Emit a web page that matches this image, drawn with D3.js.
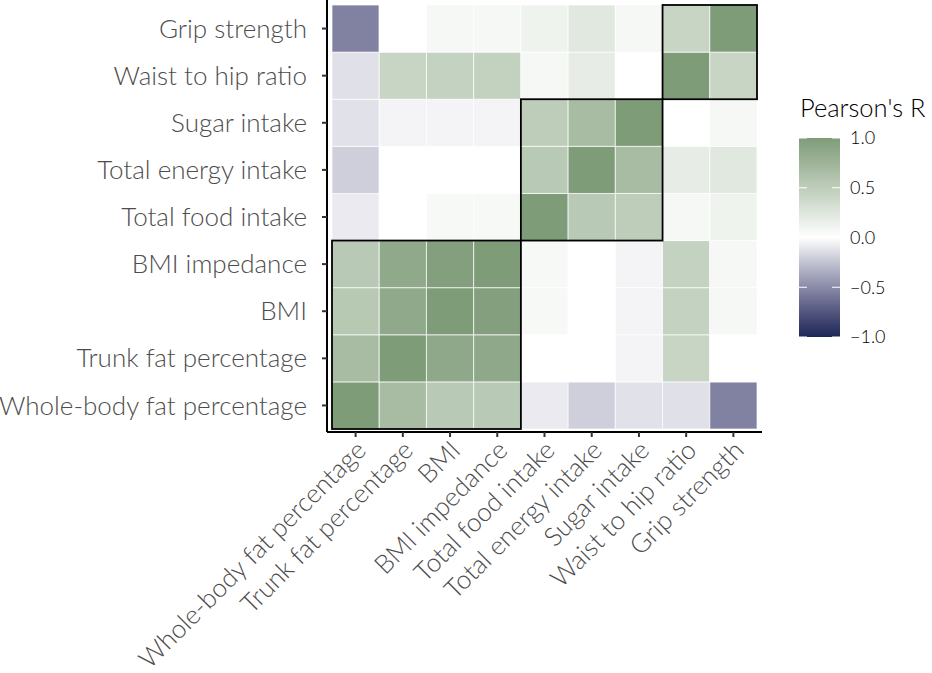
<!DOCTYPE html>
<html>
<head>
<meta charset="utf-8">
<script src="https://cdn.jsdelivr.net/npm/d3@7"></script>
<style>
  body { margin: 0; background: #fff; }
  text { font-family: Lato, "Open Sans", sans-serif; font-weight: 300; }
</style>
</head>
<body>
<div id="chart"></div>
<script>
// variables, left to right on x and bottom to top on y
var vars = ["Whole-body fat percentage", "Trunk fat percentage", "BMI", "BMI impedance",
            "Total food intake", "Total energy intake", "Sugar intake", "Waist to hip ratio", "Grip strength"];

// correlation rows, listed top to bottom as in the picture (columns follow vars)
var rowGrip   = [-0.54, 0.00, 0.07, 0.07, 0.12, 0.23, 0.07, 0.42, 1.00];
var rowWaist  = [-0.13, 0.42, 0.45, 0.46, 0.07, 0.18, 0.00, 1.00, 0.42];
var rowSugar  = [-0.125, -0.045, -0.045, -0.045, 0.50, 0.67, 1.00, 0.00, 0.07];
var rowEnergy = [-0.20, 0.00, 0.00, 0.00, 0.54, 1.00, 0.67, 0.18, 0.23];
var rowFood   = [-0.085, 0.00, 0.06, 0.06, 1.00, 0.54, 0.50, 0.07, 0.12];
var rowBmiImp = [0.54, 0.86, 0.97, 1.00, 0.06, 0.00, -0.045, 0.45, 0.07];
var rowBmi    = [0.55, 0.86, 1.00, 0.97, 0.06, 0.00, -0.045, 0.45, 0.07];
var rowTrunk  = [0.67, 1.00, 0.87, 0.87, 0.00, 0.00, -0.045, 0.42, 0.00];
var rowWhole  = [1.00, 0.67, 0.54, 0.54, -0.085, -0.20, -0.125, -0.13, -0.54];

// clusters outlined with black boxes: [first var, last var]
var clusters = [["Whole-body fat percentage", "BMI impedance"],
                ["Total food intake", "Sugar intake"],
                ["Waist to hip ratio", "Grip strength"]];

var legendTicks = [1.0, 0.5, 0.0, -0.5, -1.0];

var width = 932, height = 673;
var rows = [rowWhole, rowTrunk, rowBmi, rowBmiImp, rowFood, rowEnergy, rowSugar, rowWaist, rowGrip];

var cells = [];
rows.forEach(function(r, i) {
  r.forEach(function(v, j) {
    cells.push({ row: vars[i], col: vars[j], value: v });
  });
});

var svg = d3.select("#chart").append("svg")
  .attr("width", width)
  .attr("height", height);

var panel = { left: 327, right: 762, top: 0, bottom: 432 };

var x = d3.scaleBand().domain(vars).range([332, 757]);
var y = d3.scaleBand().domain(vars).range([429, 5]);

var color = d3.scaleLinear()
  .domain([-1, 0, 1])
  .range(["#1c2756", "#ffffff", "#7f9c79"])
  .interpolate(d3.interpolateLab);

svg.append("g").selectAll("rect")
  .data(cells)
  .join("rect")
    .attr("x", function(d) { return x(d.col); })
    .attr("y", function(d) { return y(d.row); })
    .attr("width", x.bandwidth())
    .attr("height", y.bandwidth())
    .attr("fill", function(d) { return color(d.value); })
    .attr("stroke", "rgba(255,255,255,0.7)")
    .attr("stroke-width", 1);

svg.append("g").selectAll("rect")
  .data(clusters)
  .join("rect")
    .attr("x", function(d) { return x(d[0]); })
    .attr("y", function(d) { return y(d[1]); })
    .attr("width", function(d) { return x(d[1]) + x.bandwidth() - x(d[0]); })
    .attr("height", function(d) { return y(d[0]) + y.bandwidth() - y(d[1]); })
    .attr("fill", "none")
    .attr("stroke", "#000")
    .attr("stroke-width", 1.8);

// axes
var xAxis = svg.append("g")
  .attr("transform", "translate(0," + panel.bottom + ")")
  .call(d3.axisBottom(x).tickSize(5).tickSizeOuter(0).tickFormat(""));
xAxis.select(".domain").attr("d", "M" + panel.left + ",0H" + panel.right)
  .attr("stroke", "#000").attr("stroke-width", 2);
xAxis.selectAll(".tick line").attr("stroke", "#333").attr("stroke-width", 2);

var yAxis = svg.append("g")
  .attr("transform", "translate(" + panel.left + ",0)")
  .call(d3.axisLeft(y).tickSize(5).tickSizeOuter(0).tickFormat(""));
yAxis.select(".domain").attr("d", "M0," + panel.top + "V" + panel.bottom)
  .attr("stroke", "#000").attr("stroke-width", 2);
yAxis.selectAll(".tick line").attr("stroke", "#333").attr("stroke-width", 2);

svg.append("g").selectAll("text")
  .data(vars)
  .join("text")
    .attr("x", 307)
    .attr("y", function(d) { return y(d) + y.bandwidth() / 2; })
    .attr("dy", "0.35em")
    .attr("text-anchor", "end")
    .attr("font-size", 26)
    .attr("fill", "#4d4d4d")
    .text(function(d) { return d; });

svg.append("g").selectAll("text")
  .data(vars)
  .join("text")
    .attr("transform", function(d) {
      return "translate(" + (x(d) + x.bandwidth() / 2 - 1) + "," + 439 + ") rotate(-45)";
    })
    .attr("dy", "0.7em")
    .attr("text-anchor", "end")
    .attr("font-size", 26)
    .attr("fill", "#4d4d4d")
    .text(function(d) { return d; });

// legend
var legendScale = d3.scaleLinear().domain([-1, 1]).range([337, 138]);
var defs = svg.append("defs");
var grad = defs.append("linearGradient")
  .attr("id", "grad")
  .attr("x1", 0).attr("y1", 1).attr("x2", 0).attr("y2", 0);
d3.range(-1, 1.001, 0.1).forEach(function(v) {
  grad.append("stop")
    .attr("offset", (v + 1) / 2)
    .attr("stop-color", color(v));
});

svg.append("text")
  .attr("x", 800)
  .attr("y", 117)
  .attr("font-size", 25.5)
  .attr("fill", "#000")
  .text("Pearson's R");

svg.append("rect")
  .attr("x", 799)
  .attr("y", legendScale(1))
  .attr("width", 41)
  .attr("height", legendScale(-1) - legendScale(1))
  .attr("fill", "url(#grad)");

svg.append("g").selectAll("line")
  .data(legendTicks)
  .join("line")
    .attr("x1", 799).attr("x2", 807)
    .attr("y1", function(d) { return legendScale(d); })
    .attr("y2", function(d) { return legendScale(d); })
    .attr("stroke", "#fff");
svg.append("g").selectAll("line")
  .data(legendTicks)
  .join("line")
    .attr("x1", 832).attr("x2", 840)
    .attr("y1", function(d) { return legendScale(d); })
    .attr("y2", function(d) { return legendScale(d); })
    .attr("stroke", "#fff");

svg.append("g").selectAll("text")
  .data(legendTicks)
  .join("text")
    .attr("x", 850)
    .attr("y", function(d) { return legendScale(d); })
    .attr("dy", "0.35em")
    .attr("font-size", 18)
    .attr("fill", "#000")
    .text(function(d) { return d3.format(".1f")(d).replace("-", "\u2212"); });
</script>
</body>
</html>
